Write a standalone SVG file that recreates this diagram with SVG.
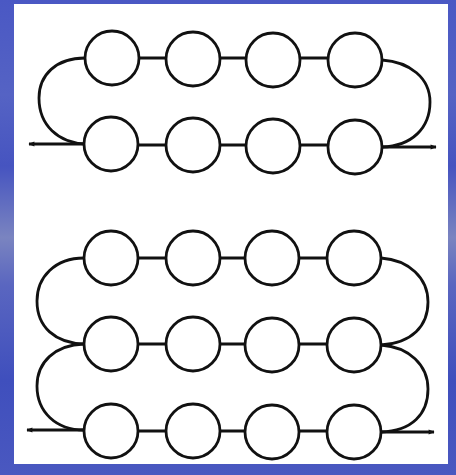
<svg xmlns="http://www.w3.org/2000/svg" width="456" height="475" viewBox="0 0 456 475">
<defs>
<linearGradient id="bg" x1="0" y1="0" x2="0" y2="1">
<stop offset="0" stop-color="#4a58c4"/>
<stop offset="0.2" stop-color="#5563c4"/>
<stop offset="0.35" stop-color="#4654c0"/>
<stop offset="0.5" stop-color="#7a84c0"/>
<stop offset="0.6" stop-color="#5a66c0"/>
<stop offset="0.8" stop-color="#3f4fbd"/>
<stop offset="1" stop-color="#4a58c0"/>
</linearGradient>
<marker id="ar" viewBox="0 0 10 10" refX="9" refY="5" markerWidth="7" markerHeight="6" orient="auto" markerUnits="userSpaceOnUse">
<path d="M0,1 L10,5 L0,9 Z" fill="#111"/>
</marker>
<style>
.n{fill:#fff;stroke:#111;stroke-width:2.8}
.c{fill:none;stroke:#111;stroke-width:2.8}
</style>
</defs>
<rect x="0" y="0" width="456" height="475" fill="url(#bg)"/>
<rect x="14" y="4" width="434" height="460" fill="#fff"/>
<g id="connectors">
<!-- top group -->
<path class="c" d="M112,58 H355"/>
<path class="c" d="M111,145 H355"/>
<path class="c" d="M85,58 C56,58 39,75 39,98 C39,125 58,143 86,144"/>
<path class="c" d="M86,144 H29" marker-end="url(#ar)"/>
<path class="c" d="M382,60 C410,62 430,78 430,102 C430,128 412,146 382,147"/>
<path class="c" d="M382,147 H436" marker-end="url(#ar)"/>
<!-- bottom group -->
<path class="c" d="M111,258 H354"/>
<path class="c" d="M111,344 H354"/>
<path class="c" d="M111,431 H354"/>
<path class="c" d="M84,258 C55,258 37,277 37,301 C37,327 55,343 84,344"/>
<path class="c" d="M84,344 C55,345 37,362 37,386 C37,412 56,430 84,430"/>
<path class="c" d="M85,430 H27" marker-end="url(#ar)"/>
<path class="c" d="M381,258 C409,260 428,278 428,302 C428,326 412,343 381,345"/>
<path class="c" d="M381,345 C409,347 428,365 428,389 C428,414 412,431 381,432"/>
<path class="c" d="M381,432 H434" marker-end="url(#ar)"/>
</g>
<g id="n1"><circle class="n" cx="112" cy="58" r="27"/></g>
<g id="n2"><circle class="n" cx="193" cy="59" r="27"/></g>
<g id="n3"><circle class="n" cx="273" cy="60" r="27"/></g>
<g id="n4"><circle class="n" cx="355" cy="60" r="27"/></g>
<g id="n5"><circle class="n" cx="111" cy="144" r="27"/></g>
<g id="n6"><circle class="n" cx="193" cy="145" r="27"/></g>
<g id="n7"><circle class="n" cx="273" cy="146" r="27"/></g>
<g id="n8"><circle class="n" cx="355" cy="147" r="27"/></g>
<g id="n9"><circle class="n" cx="111" cy="258" r="27"/></g>
<g id="n10"><circle class="n" cx="193" cy="258" r="27"/></g>
<g id="n11"><circle class="n" cx="272" cy="258" r="27"/></g>
<g id="n12"><circle class="n" cx="354" cy="258" r="27"/></g>
<g id="n13"><circle class="n" cx="111" cy="344" r="27"/></g>
<g id="n14"><circle class="n" cx="193" cy="344" r="27"/></g>
<g id="n15"><circle class="n" cx="272" cy="345" r="27"/></g>
<g id="n16"><circle class="n" cx="354" cy="345" r="27"/></g>
<g id="n17"><circle class="n" cx="111" cy="431" r="27"/></g>
<g id="n18"><circle class="n" cx="193" cy="431" r="27"/></g>
<g id="n19"><circle class="n" cx="272" cy="432" r="27"/></g>
<g id="n20"><circle class="n" cx="354" cy="432" r="27"/></g>
</svg>
